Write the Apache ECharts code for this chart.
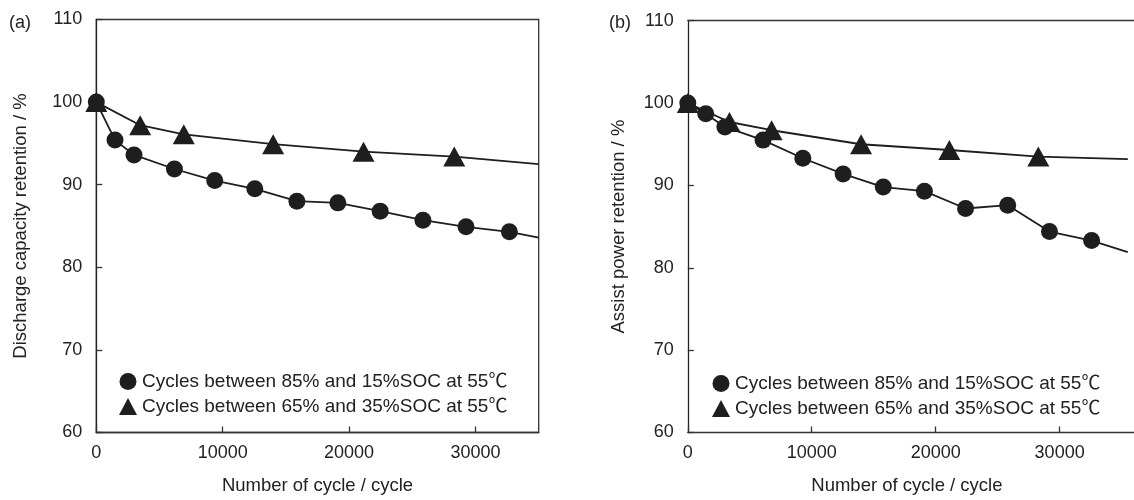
<!DOCTYPE html>
<html><head><meta charset="utf-8">
<script src="https://cdn.jsdelivr.net/npm/echarts@6/dist/echarts.min.js"></script>
<style>html,body{margin:0;padding:0;background:#fff}#c{width:1134px;height:500px}</style>
</head><body><div id="c"></div>
<script>
// Panel (a): discharge capacity retention
const aCycles85 = [0, 1480, 2985, 6180, 9370, 12540, 15870, 19110, 22460, 25840, 29250, 32680, 35000];
const aValues85 = [100, 95.4, 93.6, 91.9, 90.5, 89.5, 88.0, 87.8, 86.8, 85.7, 84.9, 84.3, 83.6];
const aCycles65 = [0, 3470, 6920, 13990, 21140, 28320, 35000];
const aValues65 = [100, 97.2, 96.1, 94.9, 94.0, 93.4, 92.5];
// Panel (b): assist power retention
const bCycles85 = [0, 1450, 2990, 6070, 9280, 12530, 15770, 19090, 22410, 25810, 29180, 32580, 35500];
const bValues85 = [100, 98.7, 97.1, 95.5, 93.3, 91.4, 89.8, 89.3, 87.2, 87.6, 84.4, 83.3, 81.9];
const bCycles65 = [0, 3360, 6760, 13980, 21100, 28280, 35500];
const bValues65 = [100, 97.7, 96.7, 95.0, 94.3, 93.5, 93.2];
// last point of each list is the end of the curve (no marker)
const yTicks = [60, 70, 80, 90, 100, 110];
const xTicks = [0, 10000, 20000, 30000];
const name85 = 'Cycles between 85% and 15%SOC at 55℃';
const name65 = 'Cycles between 65% and 35%SOC at 55℃';

const FONT = '"Liberation Sans", Arial, "Noto Sans CJK JP", sans-serif';
const INK = '#1e1e1e';

function pts(xs, ys) {
  return xs.map((x, i) => {
    const p = { value: [x, ys[i]] };
    if (i === xs.length - 1) p.symbolSize = 0;
    return p;
  });
}
function xAxis(idx, max, namePad) {
  return {
    type: 'value', gridIndex: idx, min: 0, max: max, interval: 10000,
    name: 'Number of cycle / cycle', nameLocation: 'middle', nameGap: 44,
    nameTextStyle: { fontFamily: FONT, fontSize: 18.5, color: '#222', padding: namePad },
    axisLine: { show: true, lineStyle: { color: '#333', width: 1.3 } },
    axisTick: { show: true, inside: true, length: 6, lineStyle: { color: '#333', width: 1.3 } },
    axisLabel: { fontFamily: FONT, fontSize: 18, color: '#222', margin: 12, showMaxLabel: false,
      formatter: v => (xTicks.indexOf(v) >= 0 ? String(v) : '') },
    splitLine: { show: false }
  };
}
function topAxis(idx, max) {
  return {
    type: 'value', gridIndex: idx, min: 0, max: max, position: 'top',
    axisLine: { show: true, onZero: false, lineStyle: { color: '#333', width: 1.3 } },
    axisTick: { show: false }, axisLabel: { show: false }, splitLine: { show: false }
  };
}
function yAxis(idx, title, gap) {
  return {
    type: 'value', gridIndex: idx, min: 60, max: 110, interval: 10,
    name: title, nameLocation: 'middle', nameGap: gap, nameRotate: 90,
    nameTextStyle: { fontFamily: FONT, fontSize: 18.5, color: '#222' },
    axisLine: { show: true, lineStyle: { color: '#222', width: 1.3 } },
    axisTick: { show: true, inside: true, length: 6, lineStyle: { color: '#333', width: 1.3 } },
    axisLabel: { fontFamily: FONT, fontSize: 18, color: '#222', margin: 14,
      formatter: v => (yTicks.indexOf(v) >= 0 ? String(v) : '') },
    splitLine: { show: false }
  };
}
function series(name, idx, xs, ys, sym) {
  return {
    name: name, type: 'line', xAxisIndex: idx, yAxisIndex: idx,
    data: pts(xs, ys),
    symbol: sym, symbolSize: sym === 'circle' ? 17 : [22, 20],
    showAllSymbol: true,
    itemStyle: { color: INK, opacity: 1 },
    lineStyle: { color: INK, width: 1.8 },
    legendIcon: sym,
    z: sym === 'circle' ? 3 : 2,
    animation: false
  };
}
function legend(left, top) {
  return {
    orient: 'vertical', left: left, top: top, itemGap: 6, padding: 0,
    itemWidth: 18, itemHeight: 17,
    selectedMode: false,
    textStyle: { fontFamily: FONT, fontSize: 19, color: '#222' },
    data: [{ name: name85, icon: 'circle' }, { name: name65, icon: 'triangle' }]
  };
}

const chart = echarts.init(document.getElementById('c'), null, { renderer: 'canvas' });
chart.setOption({
  animation: false,
  backgroundColor: '#fff',
  title: [
    { text: '(a)', left: 9, top: 14, padding: 0, textStyle: { fontFamily: FONT, fontSize: 18, fontWeight: 'normal', color: '#222' } },
    { text: '(b)', left: 609, top: 14, padding: 0, textStyle: { fontFamily: FONT, fontSize: 18, fontWeight: 'normal', color: '#222' } }
  ],
  grid: [
    { left: 96.3, top: 19.5, right: 595.3, bottom: 62.3, show: true, borderColor: '#333', borderWidth: 1.3, containLabel: false },
    { left: 687.8, top: 20.7, width: 451.8, bottom: 59.3, show: false, containLabel: false }
  ],
  xAxis: [xAxis(0, 35000, [0, 0, 0, 0]), xAxis(1, 36000, [0, 8, 0, 0]), topAxis(1, 36000)],
  yAxis: [yAxis(0, 'Discharge capacity retention / %', 66), yAxis(1, 'Assist power retention / %', 60)],
  legend: [legend(119, 372), legend(712, 374)],
  series: [
    series(name85, 0, aCycles85, aValues85, 'circle'),
    series(name65, 0, aCycles65, aValues65, 'triangle'),
    series(name85, 1, bCycles85, bValues85, 'circle'),
    series(name65, 1, bCycles65, bValues65, 'triangle')
  ]
});
</script></body></html>
